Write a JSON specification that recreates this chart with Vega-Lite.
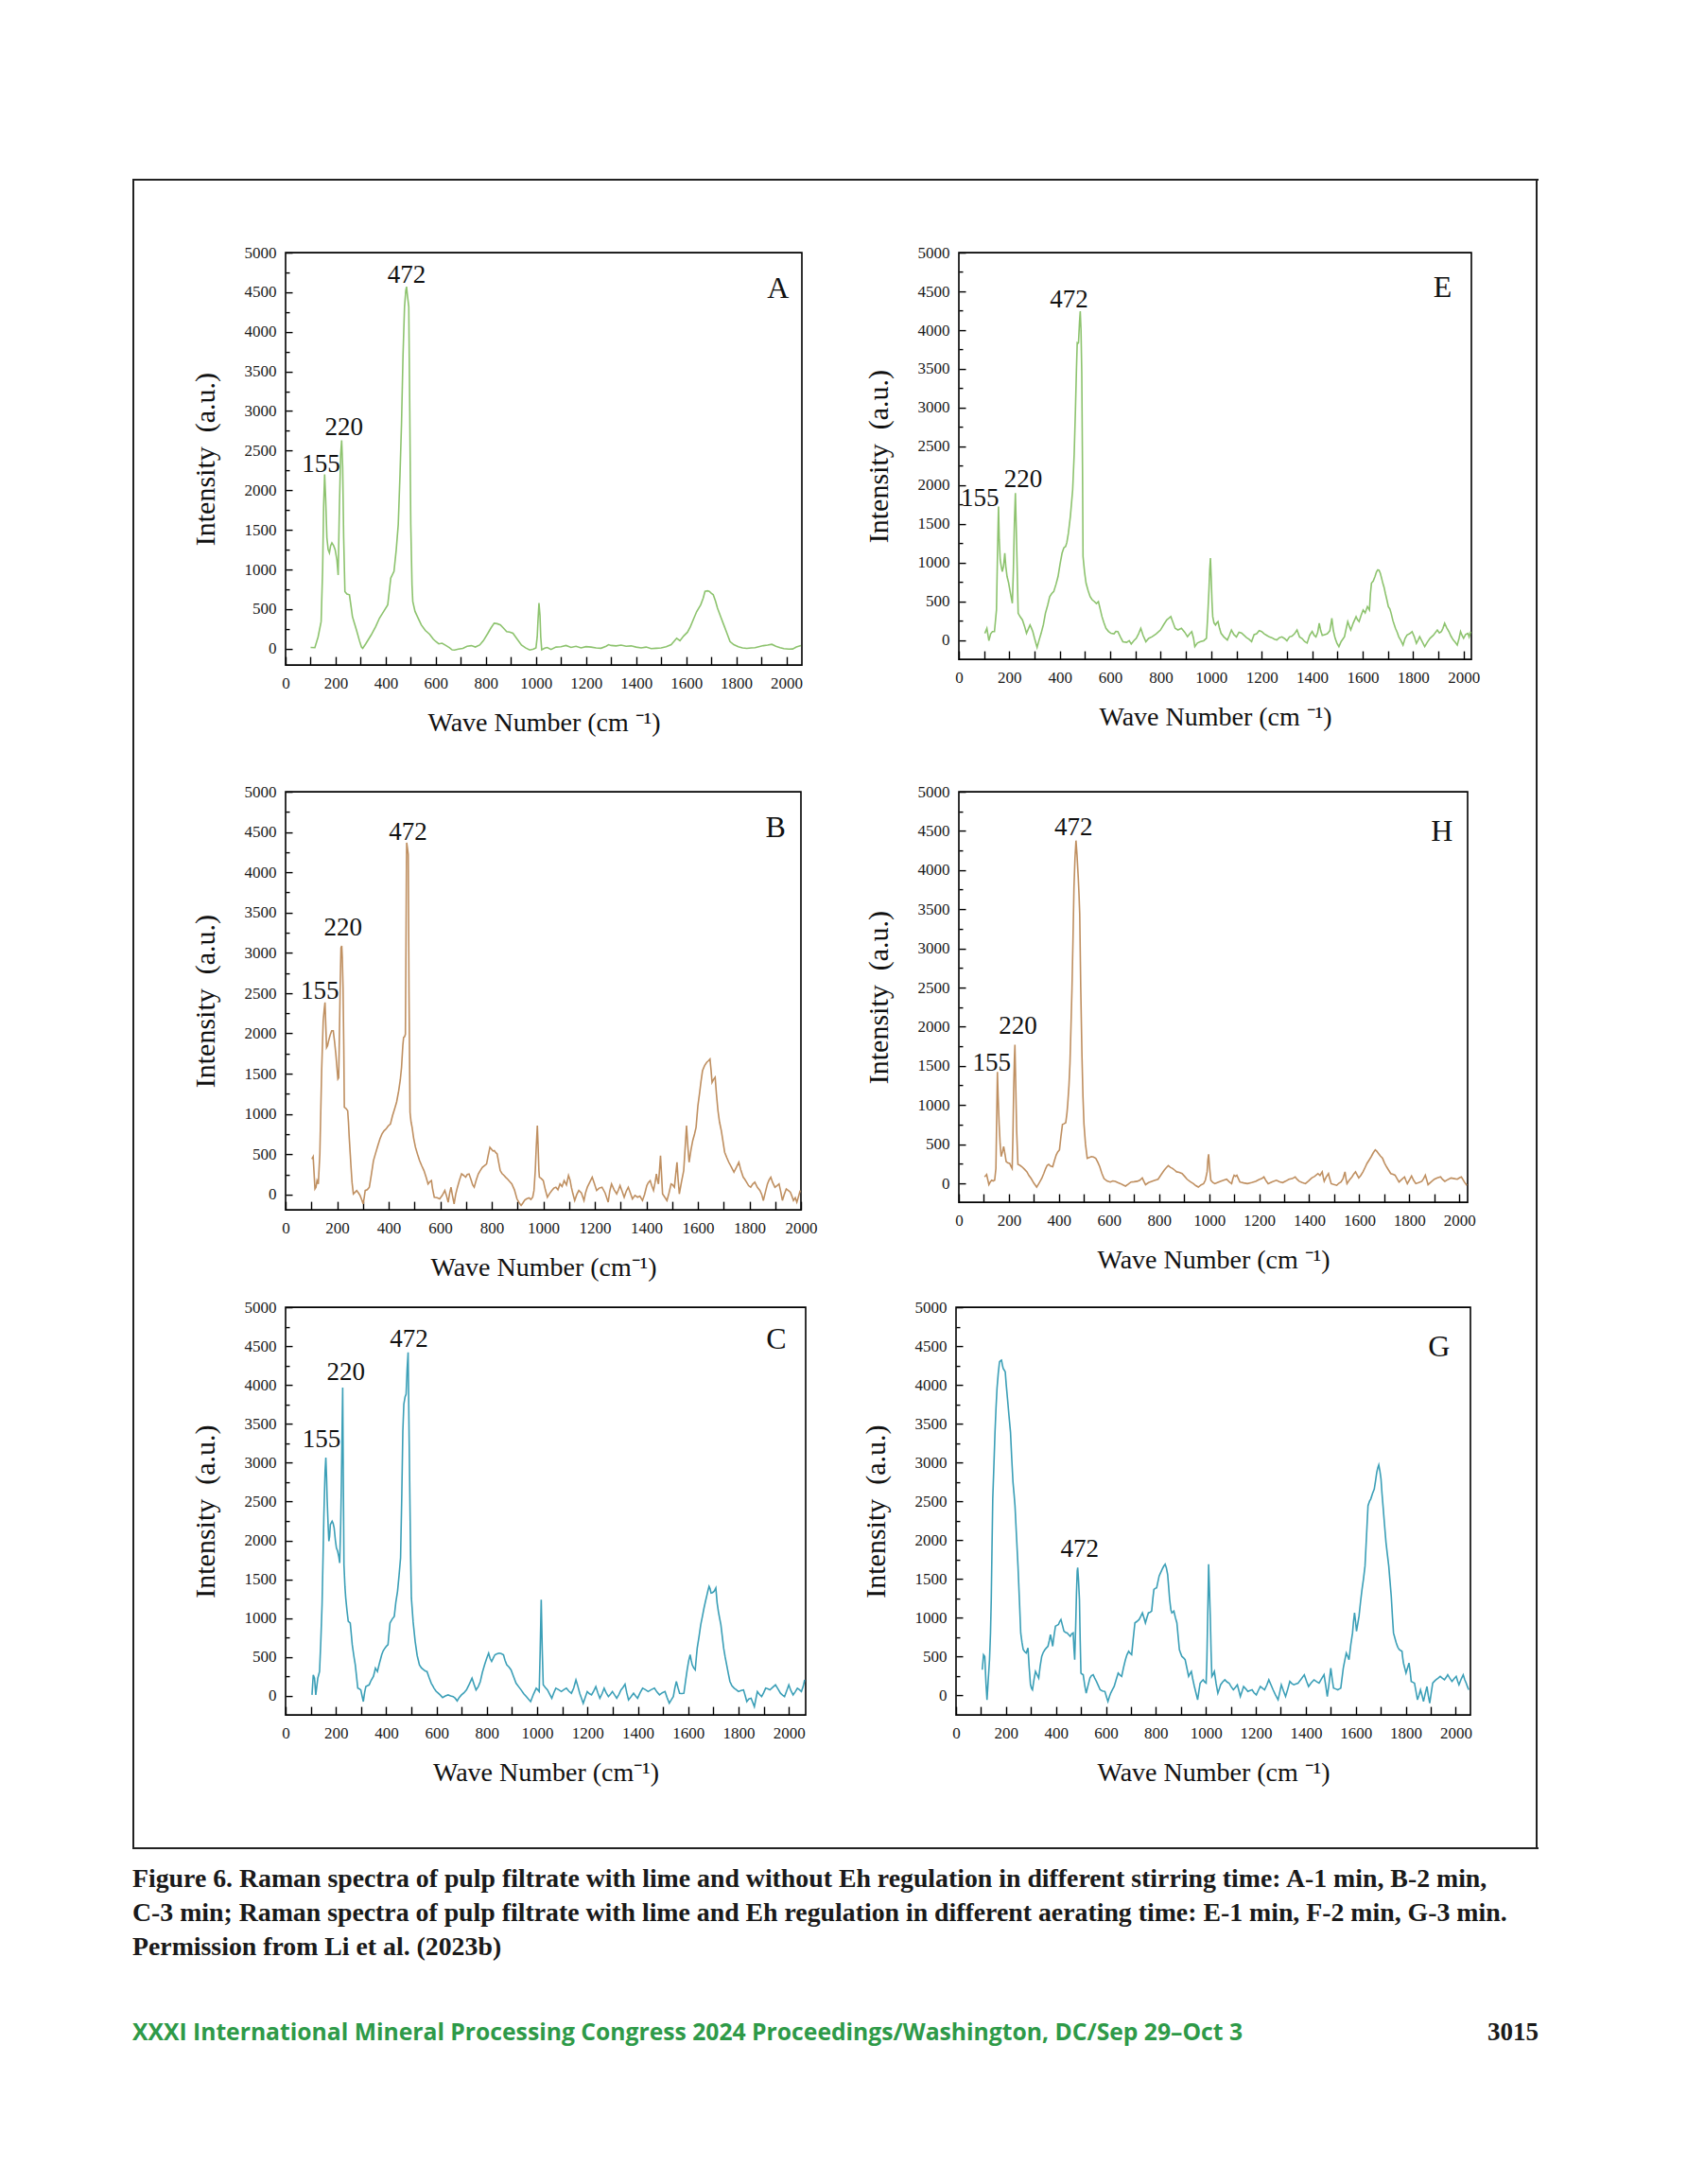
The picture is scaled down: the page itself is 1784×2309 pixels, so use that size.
{
"$schema": "https://vega.github.io/schema/vega-lite/v6.json",
"background": "white",
"padding": {"left": 140, "top": 189, "right": 20, "bottom": 20},
"config": {
  "font": "Liberation Serif",
  "view": {"stroke": "#000", "strokeWidth": 1.6},
  "axis": {"domain": false, "grid": false, "labelFont": "Liberation Serif", "labelFontSize": 17, "labelColor": "#1a1a1a", "tickColor": "#000", "tickWidth": 1.4, "titleFont": "Liberation Serif", "titleFontWeight": "normal", "titleColor": "#111", "labelFlush": false, "labelOverlap": false, "labelBound": false},
  "axisX": {"tickSize": -9, "labelPadding": 20, "titleFontSize": 28, "titlePadding": 20},
  "axisY": {"tickSize": -7, "labelPadding": 17, "titleFontSize": 30, "titlePadding": 26}
},
"datasets": {
"peaks": [
{"p":"A","k":"n","x":142,"y":2330,"t":"155"},{"p":"A","k":"n","x":233,"y":2794,"t":"220"},{"p":"A","k":"n","x":483,"y":4709,"t":"472"},{"p":"A","k":"l","x":1967,"y":4548,"t":"A"},
{"p":"E","k":"n","x":83,"y":1832,"t":"155"},{"p":"E","k":"n","x":255,"y":2069,"t":"220"},{"p":"E","k":"n","x":437,"y":4396,"t":"472"},{"p":"E","k":"l","x":1917,"y":4547,"t":"E"},
{"p":"B","k":"n","x":133,"y":2529,"t":"155"},{"p":"B","k":"n","x":223,"y":3314,"t":"220"},{"p":"B","k":"n","x":475,"y":4500,"t":"472"},{"p":"B","k":"l","x":1902,"y":4554,"t":"B"},
{"p":"H","k":"n","x":131,"y":1531,"t":"155"},{"p":"H","k":"n","x":236,"y":2007,"t":"220"},{"p":"H","k":"n","x":458,"y":4537,"t":"472"},{"p":"H","k":"l","x":1930,"y":4494,"t":"H"},
{"p":"C","k":"n","x":143,"y":3302,"t":"155"},{"p":"C","k":"n","x":240,"y":4161,"t":"220"},{"p":"C","k":"n","x":490,"y":4591,"t":"472"},{"p":"C","k":"l","x":1950,"y":4591,"t":"C"},
{"p":"G","k":"n","x":495,"y":1881,"t":"472"},{"p":"G","k":"l","x":1933,"y":4491,"t":"G"}
],
"A": [
{"x":100,"y":15},{"x":117,"y":13},{"x":130,"y":150},{"x":142,"y":342},{"x":148,"y":1000},{"x":152,"y":1800},{"x":156,"y":2200},{"x":160,"y":1900},{"x":165,"y":1400},{"x":170,"y":1250},{"x":175,"y":1210},{"x":180,"y":1300},{"x":185,"y":1335},{"x":192,"y":1300},{"x":198,"y":1250},{"x":205,"y":1120},{"x":210,"y":930},{"x":215,"y":1800},{"x":220,"y":2450},{"x":224,"y":2630},{"x":228,"y":2300},{"x":232,"y":1400},{"x":237,"y":720},{"x":245,"y":690},{"x":255,"y":680},{"x":262,"y":520},{"x":267,"y":405},{"x":275,"y":320},{"x":283,"y":237},{"x":295,"y":100},{"x":303,"y":20},{"x":308,"y":4},{"x":320,"y":60},{"x":342,"y":173},{"x":360,"y":280},{"x":375,"y":385},{"x":392,"y":470},{"x":408,"y":554},{"x":415,"y":750},{"x":420,"y":890},{"x":433,"y":976},{"x":442,"y":1250},{"x":450,"y":1568},{"x":457,"y":2200},{"x":463,"y":2836},{"x":469,"y":3700},{"x":475,"y":4316},{"x":480,"y":4520},{"x":483,"y":4570},{"x":487,"y":4450},{"x":492,"y":4316},{"x":496,"y":3000},{"x":500,"y":1568},{"x":505,"y":800},{"x":508,"y":596},{"x":517,"y":470},{"x":530,"y":380},{"x":542,"y":300},{"x":558,"y":230},{"x":575,"y":182},{"x":590,"y":120},{"x":600,"y":90},{"x":612,"y":60},{"x":625,"y":68},{"x":640,"y":40},{"x":655,"y":10},{"x":665,"y":-15},{"x":675,"y":-17},{"x":690,"y":-5},{"x":708,"y":4},{"x":725,"y":30},{"x":742,"y":38},{"x":758,"y":20},{"x":775,"y":46},{"x":790,"y":100},{"x":808,"y":194},{"x":820,"y":260},{"x":833,"y":321},{"x":845,"y":315},{"x":858,"y":300},{"x":870,"y":260},{"x":883,"y":215},{"x":895,"y":210},{"x":908,"y":194},{"x":925,"y":120},{"x":942,"y":46},{"x":958,"y":10},{"x":975,"y":-17},{"x":990,"y":-5},{"x":1000,"y":10},{"x":1005,"y":150},{"x":1008,"y":350},{"x":1012,"y":575},{"x":1016,"y":420},{"x":1019,"y":150},{"x":1023,"y":-15},{"x":1035,"y":5},{"x":1045,"y":15},{"x":1060,"y":-10},{"x":1080,"y":20},{"x":1100,"y":25},{"x":1120,"y":40},{"x":1140,"y":15},{"x":1160,"y":30},{"x":1180,"y":10},{"x":1200,"y":25},{"x":1220,"y":20},{"x":1240,"y":10},{"x":1260,"y":5},{"x":1280,"y":30},{"x":1290,"y":50},{"x":1300,"y":40},{"x":1320,"y":35},{"x":1340,"y":45},{"x":1360,"y":30},{"x":1380,"y":35},{"x":1400,"y":20},{"x":1420,"y":10},{"x":1440,"y":20},{"x":1460,"y":0},{"x":1480,"y":5},{"x":1500,"y":10},{"x":1520,"y":25},{"x":1540,"y":50},{"x":1562,"y":131},{"x":1575,"y":100},{"x":1590,"y":160},{"x":1605,"y":207},{"x":1617,"y":279},{"x":1630,"y":380},{"x":1642,"y":469},{"x":1658,"y":554},{"x":1668,"y":640},{"x":1675,"y":723},{"x":1685,"y":730},{"x":1692,"y":723},{"x":1700,"y":700},{"x":1708,"y":680},{"x":1717,"y":600},{"x":1725,"y":511},{"x":1738,"y":400},{"x":1750,"y":300},{"x":1762,"y":200},{"x":1775,"y":89},{"x":1790,"y":50},{"x":1808,"y":25},{"x":1825,"y":10},{"x":1842,"y":4},{"x":1860,"y":10},{"x":1875,"y":13},{"x":1890,"y":25},{"x":1908,"y":38},{"x":1925,"y":45},{"x":1942,"y":55},{"x":1958,"y":30},{"x":1975,"y":13},{"x":1990,"y":0},{"x":2010,"y":-5},{"x":2025,"y":-4},{"x":2040,"y":20},{"x":2058,"y":38}
],
"E": [
{"x":103,"y":86},{"x":111,"y":151},{"x":119,"y":-9},{"x":126,"y":80},{"x":133,"y":108},{"x":141,"y":108},{"x":149,"y":388},{"x":153,"y":1100},{"x":157,"y":1724},{"x":160,"y":1300},{"x":164,"y":1034},{"x":168,"y":950},{"x":172,"y":884},{"x":177,"y":950},{"x":182,"y":1121},{"x":186,"y":950},{"x":191,"y":819},{"x":197,"y":740},{"x":202,"y":646},{"x":207,"y":560},{"x":212,"y":474},{"x":216,"y":900},{"x":220,"y":1500},{"x":224,"y":1896},{"x":227,"y":1500},{"x":230,"y":1078},{"x":235,"y":345},{"x":243,"y":300},{"x":252,"y":259},{"x":260,"y":180},{"x":268,"y":86},{"x":275,"y":140},{"x":282,"y":194},{"x":288,"y":150},{"x":293,"y":108},{"x":300,"y":20},{"x":310,"y":-95},{"x":318,"y":0},{"x":326,"y":86},{"x":335,"y":200},{"x":343,"y":345},{"x":352,"y":450},{"x":360,"y":560},{"x":368,"y":600},{"x":376,"y":625},{"x":385,"y":720},{"x":393,"y":819},{"x":401,"y":980},{"x":409,"y":1121},{"x":416,"y":1190},{"x":423,"y":1207},{"x":428,"y":1260},{"x":434,"y":1379},{"x":442,"y":1600},{"x":451,"y":1940},{"x":457,"y":2400},{"x":462,"y":2974},{"x":466,"y":3500},{"x":469,"y":3836},{"x":472,"y":3830},{"x":474,"y":3836},{"x":478,"y":4100},{"x":481,"y":4245},{"x":484,"y":4000},{"x":487,"y":3448},{"x":490,"y":2200},{"x":492,"y":1078},{"x":498,"y":880},{"x":504,"y":733},{"x":512,"y":640},{"x":520,"y":560},{"x":528,"y":520},{"x":537,"y":496},{"x":545,"y":470},{"x":553,"y":496},{"x":560,"y":400},{"x":567,"y":302},{"x":575,"y":220},{"x":583,"y":151},{"x":593,"y":110},{"x":603,"y":86},{"x":615,"y":80},{"x":622,"y":110},{"x":630,"y":108},{"x":640,"y":40},{"x":650,"y":-22},{"x":665,"y":-30},{"x":675,"y":-10},{"x":683,"y":-52},{"x":693,"y":-10},{"x":703,"y":22},{"x":712,"y":80},{"x":721,"y":151},{"x":730,"y":60},{"x":741,"y":-22},{"x":752,"y":20},{"x":766,"y":43},{"x":782,"y":80},{"x":799,"y":129},{"x":812,"y":200},{"x":824,"y":259},{"x":832,"y":280},{"x":840,"y":302},{"x":848,"y":230},{"x":857,"y":151},{"x":868,"y":130},{"x":882,"y":151},{"x":895,"y":100},{"x":906,"y":43},{"x":915,"y":80},{"x":923,"y":108},{"x":930,"y":20},{"x":935,"y":-86},{"x":945,"y":-40},{"x":956,"y":-22},{"x":970,"y":-10},{"x":981,"y":22},{"x":986,"y":300},{"x":991,"y":646},{"x":994,"y":900},{"x":997,"y":1056},{"x":1000,"y":800},{"x":1003,"y":500},{"x":1006,"y":302},{"x":1011,"y":220},{"x":1017,"y":194},{"x":1022,"y":220},{"x":1027,"y":237},{"x":1033,"y":150},{"x":1039,"y":86},{"x":1050,"y":40},{"x":1064,"y":0},{"x":1072,"y":60},{"x":1080,"y":129},{"x":1090,"y":70},{"x":1100,"y":40},{"x":1110,"y":100},{"x":1120,"y":90},{"x":1130,"y":60},{"x":1140,"y":30},{"x":1150,"y":10},{"x":1160,"y":-20},{"x":1170,"y":70},{"x":1180,"y":80},{"x":1190,"y":120},{"x":1200,"y":110},{"x":1210,"y":80},{"x":1220,"y":60},{"x":1230,"y":40},{"x":1240,"y":30},{"x":1250,"y":10},{"x":1260,"y":0},{"x":1270,"y":30},{"x":1280,"y":40},{"x":1290,"y":20},{"x":1300,"y":-10},{"x":1310,"y":40},{"x":1320,"y":50},{"x":1330,"y":80},{"x":1340,"y":130},{"x":1350,"y":40},{"x":1360,"y":20},{"x":1370,"y":-20},{"x":1380,"y":-40},{"x":1390,"y":60},{"x":1400,"y":110},{"x":1408,"y":60},{"x":1415,"y":40},{"x":1422,"y":100},{"x":1428,"y":216},{"x":1434,"y":120},{"x":1440,"y":60},{"x":1450,"y":70},{"x":1460,"y":80},{"x":1470,"y":120},{"x":1478,"y":280},{"x":1484,"y":120},{"x":1491,"y":22},{"x":1498,"y":-40},{"x":1506,"y":-86},{"x":1515,"y":-20},{"x":1528,"y":43},{"x":1535,"y":150},{"x":1541,"y":237},{"x":1547,"y":180},{"x":1553,"y":129},{"x":1563,"y":220},{"x":1574,"y":302},{"x":1580,"y":260},{"x":1586,"y":237},{"x":1594,"y":320},{"x":1602,"y":388},{"x":1610,"y":350},{"x":1619,"y":431},{"x":1627,"y":388},{"x":1631,"y":600},{"x":1635,"y":733},{"x":1642,"y":760},{"x":1649,"y":819},{"x":1655,"y":880},{"x":1660,"y":905},{"x":1665,"y":900},{"x":1670,"y":862},{"x":1675,"y":800},{"x":1680,"y":733},{"x":1685,"y":680},{"x":1690,"y":603},{"x":1696,"y":520},{"x":1702,"y":431},{"x":1708,"y":400},{"x":1713,"y":345},{"x":1720,"y":250},{"x":1730,"y":151},{"x":1737,"y":100},{"x":1743,"y":43},{"x":1752,"y":-10},{"x":1760,"y":-65},{"x":1768,"y":20},{"x":1776,"y":65},{"x":1786,"y":80},{"x":1796,"y":108},{"x":1805,"y":40},{"x":1813,"y":-43},{"x":1820,"y":0},{"x":1826,"y":43},{"x":1836,"y":-20},{"x":1846,"y":-86},{"x":1856,"y":-30},{"x":1867,"y":22},{"x":1880,"y":60},{"x":1896,"y":129},{"x":1904,"y":90},{"x":1912,"y":108},{"x":1918,"y":150},{"x":1925,"y":216},{"x":1933,"y":160},{"x":1942,"y":108},{"x":1950,"y":50},{"x":1959,"y":0},{"x":1967,"y":-30},{"x":1975,"y":-65},{"x":1982,"y":20},{"x":1988,"y":108},{"x":1994,"y":60},{"x":2000,"y":22},{"x":2008,"y":70},{"x":2017,"y":86},{"x":2022,"y":40},{"x":2028,"y":108}
],
"B": [
{"x":102,"y":442},{"x":107,"y":471},{"x":114,"y":70},{"x":118,"y":90},{"x":122,"y":173},{"x":127,"y":132},{"x":133,"y":504},{"x":140,"y":1537},{"x":146,"y":2157},{"x":150,"y":2300},{"x":153,"y":2384},{"x":156,"y":2100},{"x":159,"y":1826},{"x":163,"y":1850},{"x":167,"y":1909},{"x":173,"y":1980},{"x":179,"y":2033},{"x":185,"y":2033},{"x":190,"y":1900},{"x":195,"y":1744},{"x":200,"y":1550},{"x":203,"y":1434},{"x":206,"y":1450},{"x":208,"y":1800},{"x":212,"y":2600},{"x":215,"y":3066},{"x":218,"y":3087},{"x":220,"y":2950},{"x":223,"y":2570},{"x":226,"y":1800},{"x":228,"y":1083},{"x":234,"y":1070},{"x":241,"y":1041},{"x":244,"y":900},{"x":247,"y":711},{"x":251,"y":500},{"x":254,"y":339},{"x":258,"y":150},{"x":263,"y":8},{"x":270,"y":30},{"x":276,"y":50},{"x":283,"y":20},{"x":289,"y":-12},{"x":295,"y":-60},{"x":301,"y":-116},{"x":305,"y":-40},{"x":309,"y":50},{"x":317,"y":60},{"x":325,"y":91},{"x":333,"y":250},{"x":341,"y":421},{"x":350,"y":520},{"x":358,"y":607},{"x":366,"y":690},{"x":374,"y":752},{"x":382,"y":790},{"x":390,"y":814},{"x":398,"y":850},{"x":407,"y":876},{"x":415,"y":980},{"x":423,"y":1062},{"x":431,"y":1150},{"x":439,"y":1289},{"x":445,"y":1420},{"x":450,"y":1578},{"x":455,"y":1850},{"x":458,"y":1950},{"x":462,"y":1960},{"x":465,"y":1992},{"x":467,"y":3000},{"x":469,"y":4100},{"x":470,"y":4368},{"x":473,"y":4300},{"x":476,"y":4223},{"x":479,"y":2500},{"x":483,"y":1021},{"x":487,"y":900},{"x":491,"y":835},{"x":497,"y":700},{"x":504,"y":587},{"x":512,"y":500},{"x":520,"y":421},{"x":528,"y":360},{"x":537,"y":298},{"x":545,"y":220},{"x":553,"y":132},{"x":560,"y":160},{"x":566,"y":173},{"x":570,"y":80},{"x":577,"y":-33},{"x":588,"y":-40},{"x":598,"y":-54},{"x":608,"y":-10},{"x":618,"y":50},{"x":625,"y":-20},{"x":631,"y":-95},{"x":637,"y":20},{"x":642,"y":91},{"x":648,"y":-20},{"x":654,"y":-116},{"x":660,"y":0},{"x":667,"y":91},{"x":675,"y":180},{"x":683,"y":256},{"x":690,"y":240},{"x":699,"y":215},{"x":705,"y":250},{"x":712,"y":256},{"x":720,"y":180},{"x":726,"y":120},{"x":732,"y":91},{"x":740,"y":180},{"x":748,"y":256},{"x":756,"y":300},{"x":764,"y":339},{"x":772,"y":360},{"x":780,"y":380},{"x":786,"y":480},{"x":793,"y":587},{"x":800,"y":560},{"x":805,"y":540},{"x":810,"y":545},{"x":816,"y":520},{"x":821,"y":504},{"x":827,"y":400},{"x":833,"y":298},{"x":840,"y":260},{"x":847,"y":240},{"x":854,"y":215},{"x":862,"y":190},{"x":870,"y":160},{"x":878,"y":132},{"x":888,"y":60},{"x":898,"y":-54},{"x":906,"y":-100},{"x":914,"y":-136},{"x":920,"y":-110},{"x":928,"y":-70},{"x":935,"y":-54},{"x":945,"y":-40},{"x":952,"y":-60},{"x":959,"y":-33},{"x":964,"y":50},{"x":969,"y":298},{"x":973,"y":600},{"x":977,"y":855},{"x":980,"y":600},{"x":983,"y":300},{"x":985,"y":215},{"x":992,"y":200},{"x":1000,"y":173},{"x":1008,"y":60},{"x":1016,"y":-33},{"x":1024,"y":10},{"x":1033,"y":50},{"x":1041,"y":80},{"x":1049,"y":91},{"x":1057,"y":60},{"x":1065,"y":132},{"x":1073,"y":100},{"x":1081,"y":173},{"x":1090,"y":120},{"x":1098,"y":236},{"x":1104,"y":180},{"x":1109,"y":91},{"x":1115,"y":10},{"x":1122,"y":-74},{"x":1130,"y":0},{"x":1138,"y":50},{"x":1148,"y":20},{"x":1158,"y":-74},{"x":1164,"y":20},{"x":1171,"y":91},{"x":1180,"y":150},{"x":1190,"y":215},{"x":1198,"y":140},{"x":1207,"y":50},{"x":1217,"y":80},{"x":1228,"y":91},{"x":1240,"y":20},{"x":1252,"y":-95},{"x":1258,"y":40},{"x":1265,"y":132},{"x":1275,"y":60},{"x":1285,"y":8},{"x":1292,"y":60},{"x":1298,"y":112},{"x":1306,"y":40},{"x":1314,"y":-33},{"x":1322,"y":40},{"x":1330,"y":91},{"x":1338,"y":20},{"x":1346,"y":-54},{"x":1356,"y":-10},{"x":1366,"y":-33},{"x":1375,"y":-20},{"x":1385,"y":-74},{"x":1393,"y":0},{"x":1402,"y":112},{"x":1408,"y":150},{"x":1415,"y":173},{"x":1421,"y":110},{"x":1428,"y":50},{"x":1434,"y":150},{"x":1439,"y":256},{"x":1443,"y":180},{"x":1447,"y":132},{"x":1451,"y":300},{"x":1455,"y":483},{"x":1459,"y":250},{"x":1463,"y":8},{"x":1471,"y":-30},{"x":1480,"y":-74},{"x":1488,"y":20},{"x":1496,"y":132},{"x":1502,"y":120},{"x":1509,"y":91},{"x":1514,"y":250},{"x":1519,"y":401},{"x":1523,"y":200},{"x":1528,"y":8},{"x":1536,"y":150},{"x":1545,"y":298},{"x":1551,"y":600},{"x":1556,"y":855},{"x":1561,"y":600},{"x":1566,"y":401},{"x":1573,"y":550},{"x":1580,"y":669},{"x":1587,"y":750},{"x":1593,"y":835},{"x":1600,"y":1100},{"x":1607,"y":1268},{"x":1612,"y":1400},{"x":1618,"y":1537},{"x":1626,"y":1600},{"x":1634,"y":1640},{"x":1641,"y":1660},{"x":1647,"y":1682},{"x":1651,"y":1550},{"x":1655,"y":1392},{"x":1661,"y":1430},{"x":1667,"y":1455},{"x":1672,"y":1250},{"x":1678,"y":1041},{"x":1684,"y":900},{"x":1691,"y":793},{"x":1698,"y":650},{"x":1704,"y":525},{"x":1712,"y":460},{"x":1720,"y":401},{"x":1730,"y":340},{"x":1740,"y":277},{"x":1750,"y":340},{"x":1759,"y":401},{"x":1767,"y":300},{"x":1776,"y":215},{"x":1782,"y":190},{"x":1789,"y":153},{"x":1797,"y":110},{"x":1805,"y":91},{"x":1813,"y":130},{"x":1821,"y":153},{"x":1831,"y":90},{"x":1841,"y":50},{"x":1848,"y":0},{"x":1854,"y":-74},{"x":1862,"y":30},{"x":1870,"y":132},{"x":1876,"y":180},{"x":1883,"y":215},{"x":1890,"y":150},{"x":1899,"y":91},{"x":1907,"y":110},{"x":1915,"y":132},{"x":1922,"y":30},{"x":1928,"y":-74},{"x":1935,"y":0},{"x":1943,"y":70},{"x":1951,"y":50},{"x":1959,"y":29},{"x":1965,"y":-20},{"x":1971,"y":-74},{"x":1978,"y":-40},{"x":1984,"y":-95},{"x":1991,"y":-20},{"x":1997,"y":50}
],
"H": [
{"x":103,"y":82},{"x":111,"y":112},{"x":120,"y":-17},{"x":126,"y":20},{"x":131,"y":39},{"x":137,"y":30},{"x":143,"y":39},{"x":148,"y":190},{"x":151,"y":800},{"x":154,"y":1423},{"x":157,"y":1100},{"x":161,"y":753},{"x":165,"y":500},{"x":169,"y":342},{"x":174,"y":400},{"x":179,"y":471},{"x":184,"y":380},{"x":189,"y":277},{"x":196,"y":260},{"x":203,"y":255},{"x":208,"y":220},{"x":213,"y":190},{"x":216,"y":600},{"x":219,"y":1200},{"x":222,"y":1600},{"x":224,"y":1769},{"x":227,"y":1300},{"x":231,"y":666},{"x":236,"y":242},{"x":244,"y":230},{"x":252,"y":212},{"x":262,"y":180},{"x":272,"y":147},{"x":280,"y":100},{"x":289,"y":61},{"x":300,"y":0},{"x":311,"y":-48},{"x":320,"y":0},{"x":331,"y":61},{"x":340,"y":130},{"x":347,"y":190},{"x":353,"y":230},{"x":359,"y":242},{"x":366,"y":220},{"x":375,"y":212},{"x":382,"y":290},{"x":389,"y":363},{"x":395,"y":400},{"x":402,"y":428},{"x":408,"y":600},{"x":414,"y":753},{"x":420,"y":760},{"x":427,"y":774},{"x":432,"y":900},{"x":435,"y":1012},{"x":440,"y":1250},{"x":444,"y":1531},{"x":448,"y":2000},{"x":452,"y":2483},{"x":456,"y":3100},{"x":460,"y":3780},{"x":464,"y":4150},{"x":468,"y":4377},{"x":472,"y":4200},{"x":477,"y":3910},{"x":480,"y":3700},{"x":483,"y":3434},{"x":487,"y":2500},{"x":492,"y":1618},{"x":496,"y":1100},{"x":500,"y":753},{"x":506,"y":500},{"x":513,"y":320},{"x":521,"y":330},{"x":530,"y":342},{"x":538,"y":335},{"x":547,"y":320},{"x":555,"y":270},{"x":563,"y":212},{"x":571,"y":130},{"x":580,"y":61},{"x":592,"y":30},{"x":605,"y":17},{"x":615,"y":30},{"x":625,"y":26},{"x":635,"y":10},{"x":646,"y":-4},{"x":656,"y":-20},{"x":666,"y":-35},{"x":677,"y":-10},{"x":688,"y":17},{"x":700,"y":20},{"x":713,"y":26},{"x":723,"y":40},{"x":733,"y":69},{"x":740,"y":20},{"x":746,"y":-17},{"x":758,"y":10},{"x":771,"y":26},{"x":784,"y":40},{"x":796,"y":52},{"x":808,"y":110},{"x":821,"y":169},{"x":829,"y":200},{"x":837,"y":225},{"x":845,"y":205},{"x":854,"y":190},{"x":862,"y":170},{"x":870,"y":147},{"x":881,"y":140},{"x":892,"y":125},{"x":902,"y":90},{"x":912,"y":52},{"x":925,"y":20},{"x":937,"y":-4},{"x":947,"y":-30},{"x":957,"y":-48},{"x":968,"y":-20},{"x":978,"y":-4},{"x":985,"y":40},{"x":992,"y":147},{"x":995,"y":300},{"x":998,"y":372},{"x":1002,"y":200},{"x":1007,"y":39},{"x":1015,"y":10},{"x":1023,"y":-4},{"x":1033,"y":10},{"x":1045,"y":26},{"x":1058,"y":40},{"x":1070,"y":52},{"x":1080,"y":20},{"x":1090,"y":-4},{"x":1095,"y":60},{"x":1100,"y":104},{"x":1106,"y":90},{"x":1111,"y":104},{"x":1117,"y":60},{"x":1123,"y":17},{"x":1138,"y":5},{"x":1153,"y":-4},{"x":1170,"y":10},{"x":1186,"y":26},{"x":1200,"y":50},{"x":1210,"y":60},{"x":1219,"y":82},{"x":1228,"y":30},{"x":1236,"y":-4},{"x":1252,"y":20},{"x":1269,"y":39},{"x":1282,"y":20},{"x":1294,"y":9},{"x":1307,"y":30},{"x":1319,"y":52},{"x":1332,"y":60},{"x":1344,"y":82},{"x":1352,"y":50},{"x":1360,"y":26},{"x":1372,"y":10},{"x":1385,"y":-4},{"x":1397,"y":30},{"x":1410,"y":69},{"x":1422,"y":90},{"x":1435,"y":125},{"x":1443,"y":100},{"x":1452,"y":147},{"x":1456,"y":80},{"x":1460,"y":26},{"x":1468,"y":80},{"x":1477,"y":125},{"x":1482,"y":60},{"x":1488,"y":-4},{"x":1498,"y":-15},{"x":1510,"y":-26},{"x":1518,"y":0},{"x":1527,"y":17},{"x":1535,"y":60},{"x":1543,"y":147},{"x":1547,"y":60},{"x":1551,"y":-4},{"x":1560,"y":40},{"x":1571,"y":82},{"x":1578,"y":120},{"x":1585,"y":147},{"x":1591,"y":110},{"x":1598,"y":69},{"x":1606,"y":100},{"x":1615,"y":147},{"x":1623,"y":200},{"x":1631,"y":255},{"x":1640,"y":300},{"x":1648,"y":342},{"x":1656,"y":390},{"x":1664,"y":428},{"x":1670,"y":410},{"x":1676,"y":385},{"x":1684,"y":350},{"x":1693,"y":320},{"x":1701,"y":260},{"x":1709,"y":212},{"x":1717,"y":170},{"x":1726,"y":125},{"x":1735,"y":115},{"x":1743,"y":104},{"x":1751,"y":60},{"x":1759,"y":17},{"x":1770,"y":50},{"x":1781,"y":82},{"x":1786,"y":40},{"x":1792,"y":-4},{"x":1800,"y":40},{"x":1809,"y":95},{"x":1817,"y":40},{"x":1826,"y":-4},{"x":1838,"y":10},{"x":1850,"y":26},{"x":1857,"y":60},{"x":1864,"y":104},{"x":1870,"y":40},{"x":1875,"y":-17},{"x":1888,"y":20},{"x":1900,"y":52},{"x":1912,"y":70},{"x":1925,"y":82},{"x":1933,"y":50},{"x":1942,"y":26},{"x":1955,"y":50},{"x":1967,"y":69},{"x":1980,"y":60},{"x":1992,"y":52},{"x":2000,"y":70},{"x":2008,"y":82},{"x":2014,"y":50},{"x":2020,"y":17},{"x":2030,"y":-26}
],
"C": [
{"x":105,"y":13},{"x":110,"y":271},{"x":115,"y":230},{"x":120,"y":13},{"x":128,"y":228},{"x":135,"y":314},{"x":140,"y":700},{"x":145,"y":1174},{"x":149,"y":1800},{"x":152,"y":2291},{"x":157,"y":2893},{"x":160,"y":3065},{"x":163,"y":2800},{"x":165,"y":2549},{"x":169,"y":2200},{"x":172,"y":1990},{"x":175,"y":2050},{"x":178,"y":2205},{"x":185,"y":2248},{"x":189,"y":2220},{"x":193,"y":2162},{"x":198,"y":2000},{"x":202,"y":1904},{"x":207,"y":1861},{"x":212,"y":1780},{"x":215,"y":1711},{"x":219,"y":2200},{"x":222,"y":2764},{"x":225,"y":3500},{"x":227,"y":3968},{"x":229,"y":3000},{"x":232,"y":1689},{"x":236,"y":1400},{"x":239,"y":1260},{"x":244,"y":1100},{"x":249,"y":959},{"x":257,"y":937},{"x":261,"y":800},{"x":265,"y":658},{"x":271,"y":520},{"x":277,"y":400},{"x":282,"y":250},{"x":287,"y":99},{"x":293,"y":90},{"x":299,"y":77},{"x":304,"y":0},{"x":309,"y":-73},{"x":314,"y":40},{"x":319,"y":120},{"x":325,"y":130},{"x":332,"y":142},{"x":340,"y":200},{"x":349,"y":249},{"x":353,"y":300},{"x":357,"y":357},{"x":365,"y":314},{"x":373,"y":420},{"x":382,"y":529},{"x":388,"y":580},{"x":395,"y":615},{"x":401,"y":640},{"x":407,"y":658},{"x":411,"y":800},{"x":415,"y":937},{"x":424,"y":990},{"x":432,"y":1023},{"x":438,"y":1200},{"x":445,"y":1346},{"x":451,"y":1550},{"x":457,"y":1776},{"x":462,"y":2600},{"x":466,"y":3400},{"x":470,"y":3753},{"x":475,"y":3850},{"x":479,"y":3882},{"x":483,"y":4200},{"x":487,"y":4419},{"x":490,"y":3600},{"x":494,"y":2549},{"x":497,"y":1800},{"x":500,"y":1260},{"x":507,"y":950},{"x":515,"y":701},{"x":523,"y":520},{"x":532,"y":400},{"x":540,"y":360},{"x":549,"y":335},{"x":556,"y":320},{"x":562,"y":314},{"x":570,"y":240},{"x":579,"y":163},{"x":585,"y":130},{"x":590,"y":99},{"x":598,"y":60},{"x":607,"y":34},{"x":615,"y":10},{"x":624,"y":-21},{"x":635,"y":0},{"x":646,"y":13},{"x":656,"y":0},{"x":666,"y":-9},{"x":674,"y":-30},{"x":682,"y":-64},{"x":690,"y":-20},{"x":699,"y":13},{"x":709,"y":40},{"x":719,"y":77},{"x":730,"y":150},{"x":741,"y":228},{"x":749,"y":150},{"x":757,"y":77},{"x":766,"y":120},{"x":774,"y":185},{"x":782,"y":300},{"x":791,"y":400},{"x":799,"y":480},{"x":807,"y":550},{"x":813,"y":480},{"x":819,"y":443},{"x":826,"y":490},{"x":832,"y":529},{"x":840,"y":540},{"x":849,"y":550},{"x":857,"y":545},{"x":866,"y":529},{"x":872,"y":460},{"x":879,"y":400},{"x":888,"y":370},{"x":896,"y":335},{"x":906,"y":250},{"x":916,"y":163},{"x":926,"y":120},{"x":936,"y":77},{"x":946,"y":30},{"x":957,"y":-9},{"x":965,"y":-40},{"x":974,"y":-73},{"x":985,"y":20},{"x":996,"y":99},{"x":1002,"y":80},{"x":1008,"y":56},{"x":1012,"y":600},{"x":1016,"y":1238},{"x":1020,"y":600},{"x":1024,"y":142},{"x":1032,"y":110},{"x":1041,"y":77},{"x":1050,"y":20},{"x":1058,"y":-30},{"x":1066,"y":40},{"x":1074,"y":99},{"x":1085,"y":80},{"x":1096,"y":56},{"x":1106,"y":80},{"x":1116,"y":99},{"x":1126,"y":60},{"x":1136,"y":34},{"x":1145,"y":100},{"x":1154,"y":206},{"x":1162,"y":120},{"x":1169,"y":34},{"x":1176,"y":-30},{"x":1183,"y":-95},{"x":1191,"y":-20},{"x":1199,"y":56},{"x":1207,"y":30},{"x":1216,"y":13},{"x":1224,"y":60},{"x":1233,"y":120},{"x":1241,"y":40},{"x":1249,"y":-30},{"x":1258,"y":30},{"x":1266,"y":99},{"x":1274,"y":40},{"x":1283,"y":-9},{"x":1291,"y":20},{"x":1299,"y":56},{"x":1308,"y":10},{"x":1316,"y":-30},{"x":1325,"y":20},{"x":1333,"y":77},{"x":1341,"y":110},{"x":1349,"y":150},{"x":1356,"y":40},{"x":1363,"y":-52},{"x":1373,"y":-10},{"x":1383,"y":34},{"x":1391,"y":0},{"x":1399,"y":-30},{"x":1409,"y":40},{"x":1419,"y":99},{"x":1430,"y":80},{"x":1441,"y":56},{"x":1453,"y":80},{"x":1466,"y":99},{"x":1476,"y":50},{"x":1486,"y":13},{"x":1497,"y":40},{"x":1508,"y":56},{"x":1516,"y":-20},{"x":1525,"y":-95},{"x":1533,"y":-50},{"x":1541,"y":-9},{"x":1547,"y":100},{"x":1553,"y":185},{"x":1560,"y":100},{"x":1566,"y":34},{"x":1575,"y":30},{"x":1583,"y":34},{"x":1590,"y":200},{"x":1596,"y":335},{"x":1602,"y":450},{"x":1608,"y":529},{"x":1612,"y":460},{"x":1616,"y":400},{"x":1622,"y":360},{"x":1628,"y":335},{"x":1632,"y":480},{"x":1636,"y":615},{"x":1643,"y":760},{"x":1650,"y":916},{"x":1657,"y":1030},{"x":1663,"y":1131},{"x":1669,"y":1220},{"x":1675,"y":1303},{"x":1679,"y":1360},{"x":1683,"y":1410},{"x":1687,"y":1380},{"x":1691,"y":1324},{"x":1697,"y":1330},{"x":1703,"y":1346},{"x":1707,"y":1370},{"x":1710,"y":1389},{"x":1715,"y":1200},{"x":1720,"y":1088},{"x":1725,"y":1000},{"x":1730,"y":916},{"x":1735,"y":780},{"x":1741,"y":615},{"x":1747,"y":500},{"x":1753,"y":400},{"x":1760,"y":280},{"x":1766,"y":185},{"x":1774,"y":130},{"x":1783,"y":99},{"x":1791,"y":80},{"x":1800,"y":56},{"x":1810,"y":70},{"x":1820,"y":77},{"x":1827,"y":0},{"x":1833,"y":-73},{"x":1841,"y":-40},{"x":1850,"y":-30},{"x":1856,"y":-80},{"x":1863,"y":-138},{"x":1869,"y":-40},{"x":1875,"y":56},{"x":1883,"y":20},{"x":1892,"y":-9},{"x":1900,"y":40},{"x":1908,"y":99},{"x":1917,"y":90},{"x":1925,"y":77},{"x":1936,"y":110},{"x":1947,"y":142},{"x":1957,"y":90},{"x":1967,"y":34},{"x":1975,"y":10},{"x":1983,"y":-9},{"x":1991,"y":60},{"x":2000,"y":142},{"x":2008,"y":70},{"x":2017,"y":13},{"x":2025,"y":50},{"x":2034,"y":99},{"x":2042,"y":80},{"x":2050,"y":56},{"x":2057,"y":120},{"x":2063,"y":206}
],
"G": [
{"x":105,"y":328},{"x":110,"y":522},{"x":115,"y":500},{"x":120,"y":150},{"x":124,"y":-60},{"x":129,"y":200},{"x":134,"y":457},{"x":138,"y":800},{"x":141,"y":1234},{"x":144,"y":1900},{"x":147,"y":2528},{"x":152,"y":3000},{"x":156,"y":3391},{"x":160,"y":3700},{"x":164,"y":3952},{"x":169,"y":4150},{"x":174,"y":4297},{"x":178,"y":4310},{"x":182,"y":4318},{"x":186,"y":4250},{"x":189,"y":4210},{"x":193,"y":4190},{"x":197,"y":4167},{"x":201,"y":4000},{"x":206,"y":3822},{"x":212,"y":3600},{"x":218,"y":3391},{"x":223,"y":3050},{"x":228,"y":2744},{"x":232,"y":2600},{"x":236,"y":2442},{"x":242,"y":2050},{"x":248,"y":1665},{"x":254,"y":1200},{"x":259,"y":802},{"x":264,"y":680},{"x":269,"y":587},{"x":275,"y":560},{"x":281,"y":544},{"x":285,"y":580},{"x":288,"y":608},{"x":293,"y":350},{"x":298,"y":134},{"x":302,"y":90},{"x":306,"y":69},{"x":312,"y":200},{"x":318,"y":306},{"x":325,"y":260},{"x":331,"y":220},{"x":337,"y":380},{"x":343,"y":500},{"x":349,"y":550},{"x":356,"y":587},{"x":362,"y":610},{"x":368,"y":630},{"x":373,"y":700},{"x":378,"y":781},{"x":383,"y":700},{"x":387,"y":630},{"x":392,"y":760},{"x":398,"y":889},{"x":404,"y":900},{"x":410,"y":910},{"x":415,"y":950},{"x":420,"y":975},{"x":426,"y":900},{"x":432,"y":824},{"x":438,"y":810},{"x":445,"y":802},{"x":451,"y":780},{"x":457,"y":759},{"x":463,"y":790},{"x":469,"y":802},{"x":472,"y":600},{"x":475,"y":457},{"x":479,"y":900},{"x":482,"y":1300},{"x":485,"y":1600},{"x":487,"y":1644},{"x":490,"y":1500},{"x":494,"y":1234},{"x":497,"y":700},{"x":500,"y":285},{"x":505,"y":270},{"x":509,"y":263},{"x":515,"y":130},{"x":521,"y":26},{"x":528,"y":120},{"x":536,"y":220},{"x":542,"y":250},{"x":549,"y":263},{"x":555,"y":220},{"x":562,"y":177},{"x":570,"y":120},{"x":577,"y":69},{"x":586,"y":55},{"x":596,"y":47},{"x":602,"y":-20},{"x":608,"y":-82},{"x":614,"y":-20},{"x":619,"y":26},{"x":626,"y":70},{"x":633,"y":112},{"x":641,"y":200},{"x":649,"y":285},{"x":656,"y":260},{"x":663,"y":242},{"x":670,"y":350},{"x":678,"y":457},{"x":684,"y":520},{"x":691,"y":565},{"x":697,"y":540},{"x":703,"y":522},{"x":709,"y":720},{"x":716,"y":932},{"x":724,"y":950},{"x":733,"y":975},{"x":740,"y":1020},{"x":746,"y":1061},{"x":752,"y":1000},{"x":758,"y":932},{"x":764,"y":1000},{"x":770,"y":1061},{"x":777,"y":1070},{"x":783,"y":1083},{"x":788,"y":1250},{"x":792,"y":1363},{"x":797,"y":1375},{"x":803,"y":1385},{"x":808,"y":1460},{"x":813,"y":1536},{"x":819,"y":1580},{"x":825,"y":1622},{"x":831,"y":1660},{"x":837,"y":1687},{"x":842,"y":1640},{"x":847,"y":1557},{"x":851,"y":1400},{"x":855,"y":1234},{"x":860,"y":1100},{"x":864,"y":1061},{"x":868,"y":1070},{"x":872,"y":1083},{"x":878,"y":1000},{"x":884,"y":932},{"x":889,"y":760},{"x":894,"y":587},{"x":899,"y":540},{"x":904,"y":500},{"x":911,"y":480},{"x":917,"y":457},{"x":924,"y":350},{"x":931,"y":242},{"x":937,"y":280},{"x":942,"y":306},{"x":948,"y":200},{"x":954,"y":112},{"x":961,"y":20},{"x":967,"y":-60},{"x":972,"y":50},{"x":977,"y":155},{"x":983,"y":180},{"x":989,"y":198},{"x":995,"y":170},{"x":1001,"y":155},{"x":1004,"y":450},{"x":1006,"y":802},{"x":1009,"y":1300},{"x":1011,"y":1687},{"x":1014,"y":1400},{"x":1018,"y":975},{"x":1021,"y":550},{"x":1024,"y":242},{"x":1029,"y":270},{"x":1034,"y":306},{"x":1041,"y":150},{"x":1048,"y":26},{"x":1054,"y":80},{"x":1059,"y":134},{"x":1067,"y":170},{"x":1076,"y":198},{"x":1085,"y":170},{"x":1093,"y":155},{"x":1101,"y":110},{"x":1110,"y":69},{"x":1118,"y":100},{"x":1126,"y":134},{"x":1132,"y":60},{"x":1138,"y":-17},{"x":1145,"y":50},{"x":1151,"y":112},{"x":1160,"y":80},{"x":1168,"y":47},{"x":1177,"y":60},{"x":1185,"y":69},{"x":1193,"y":30},{"x":1202,"y":4},{"x":1210,"y":60},{"x":1218,"y":112},{"x":1227,"y":90},{"x":1235,"y":69},{"x":1244,"y":130},{"x":1252,"y":198},{"x":1261,"y":130},{"x":1269,"y":69},{"x":1279,"y":0},{"x":1289,"y":-60},{"x":1296,"y":40},{"x":1302,"y":134},{"x":1311,"y":50},{"x":1319,"y":-17},{"x":1328,"y":80},{"x":1336,"y":177},{"x":1344,"y":150},{"x":1352,"y":134},{"x":1361,"y":145},{"x":1369,"y":155},{"x":1382,"y":210},{"x":1394,"y":263},{"x":1403,"y":180},{"x":1411,"y":112},{"x":1422,"y":160},{"x":1433,"y":198},{"x":1443,"y":175},{"x":1453,"y":155},{"x":1463,"y":210},{"x":1473,"y":263},{"x":1480,"y":120},{"x":1486,"y":-17},{"x":1493,"y":150},{"x":1500,"y":349},{"x":1506,"y":200},{"x":1511,"y":91},{"x":1520,"y":80},{"x":1528,"y":69},{"x":1534,"y":80},{"x":1540,"y":91},{"x":1545,"y":220},{"x":1550,"y":349},{"x":1556,"y":450},{"x":1562,"y":544},{"x":1568,"y":500},{"x":1573,"y":457},{"x":1580,"y":650},{"x":1587,"y":802},{"x":1591,"y":950},{"x":1595,"y":1061},{"x":1599,"y":950},{"x":1603,"y":824},{"x":1608,"y":920},{"x":1613,"y":1018},{"x":1619,"y":1200},{"x":1625,"y":1363},{"x":1631,"y":1500},{"x":1637,"y":1665},{"x":1643,"y":2050},{"x":1649,"y":2442},{"x":1655,"y":2500},{"x":1660,"y":2528},{"x":1667,"y":2600},{"x":1674,"y":2657},{"x":1679,"y":2760},{"x":1684,"y":2873},{"x":1688,"y":2930},{"x":1692,"y":2968},{"x":1697,"y":2880},{"x":1701,"y":2787},{"x":1705,"y":2600},{"x":1709,"y":2442},{"x":1715,"y":2200},{"x":1721,"y":1967},{"x":1727,"y":1800},{"x":1732,"y":1665},{"x":1737,"y":1470},{"x":1742,"y":1277},{"x":1747,"y":1000},{"x":1751,"y":802},{"x":1757,"y":730},{"x":1762,"y":673},{"x":1768,"y":620},{"x":1774,"y":587},{"x":1780,"y":575},{"x":1785,"y":565},{"x":1788,"y":480},{"x":1791,"y":414},{"x":1796,"y":350},{"x":1801,"y":285},{"x":1807,"y":350},{"x":1813,"y":414},{"x":1818,"y":300},{"x":1822,"y":177},{"x":1829,"y":165},{"x":1835,"y":155},{"x":1841,"y":50},{"x":1847,"y":-60},{"x":1853,"y":0},{"x":1859,"y":69},{"x":1865,"y":0},{"x":1871,"y":-82},{"x":1878,"y":20},{"x":1885,"y":112},{"x":1890,"y":0},{"x":1896,"y":-104},{"x":1902,"y":30},{"x":1908,"y":155},{"x":1915,"y":180},{"x":1921,"y":198},{"x":1930,"y":220},{"x":1938,"y":242},{"x":1946,"y":220},{"x":1955,"y":198},{"x":1962,"y":230},{"x":1968,"y":263},{"x":1976,"y":220},{"x":1985,"y":177},{"x":1993,"y":210},{"x":2002,"y":242},{"x":2008,"y":180},{"x":2013,"y":134},{"x":2021,"y":200},{"x":2030,"y":263},{"x":2036,"y":200},{"x":2042,"y":155},{"x":2047,"y":110},{"x":2052,"y":69}
]
},
"title": {"text": "3015", "orient": "bottom", "anchor": "end", "frame": "bounds", "font": "Liberation Serif", "fontSize": 27, "fontWeight": "bold", "color": "#1a1a1a", "offset": -26, "dx": 0},
"vconcat": [
{
"title": {"text": ["Figure 6. Raman spectra of pulp filtrate with lime and without Eh regulation in different stirring time: A-1 min, B-2 min,", "C-3 min; Raman spectra of pulp filtrate with lime and Eh regulation in different aerating time: E-1 min, F-2 min, G-3 min.", "Permission from Li et al. (2023b)"], "orient": "bottom", "anchor": "start", "frame": "bounds", "font": "Liberation Serif", "fontSize": 27.8, "fontWeight": "bold", "color": "#1a1a1a", "lineHeight": 36, "offset": 18, "dx": 0, "subtitle": "XXXI International Mineral Processing Congress 2024 Proceedings/Washington, DC/Sep 29\u2013Oct 3", "subtitleFont": "Open Sans", "subtitleFontSize": 24.7, "subtitleFontWeight": "bold", "subtitleColor": "#2e9a48", "subtitlePadding": 64},
"spacing": 0,
"vconcat": [
{"width": 1487, "height": 2, "view": {"stroke": null}, "data": {"values": [{}]}, "mark": {"type": "rect", "color": "#222"}, "encoding": {}},
{
"spacing": 59, "center": true,
"hconcat": [
{"width": 2, "height": 1762, "view": {"stroke": null}, "data": {"values": [{}]}, "mark": {"type": "rect", "color": "#222"}, "encoding": {}},
{
"spacing": 58, "center": true,
"hconcat": [
{
"spacing": 0,
"vconcat": [
{"width": 1, "height": 2, "view": {"stroke": null}, "data": {"values": []}, "mark": "point"},
{
"spacing": 17,
"vconcat": [
{
"spacing": 48,
"vconcat": [
{
"hconcat": [
{
"width": 546, "height": 436,
"encoding": {
 "x": {"field": "x", "type": "quantitative", "scale": {"domain": [0, 2062], "nice": false, "zero": false}, "axis": {"labelFont": "Liberation Serif", "labelFontSize": 17, "values": [0,100,200,300,400,500,600,700,800,900,1000,1100,1200,1300,1400,1500,1600,1700,1800,1900,2000], "labelExpr": "datum.value % 200 === 0 ? datum.label : ''", "format": "d", "title": "Wave Number (cm \u207b\u00b9)"}},
 "y": {"field": "y", "type": "quantitative", "scale": {"domain": [-207, 5000], "nice": false, "zero": false}, "axis": {"labelFont": "Liberation Serif", "labelFontSize": 17, "values": [0,250,500,750,1000,1250,1500,1750,2000,2250,2500,2750,3000,3250,3500,3750,4000,4250,4500,4750,5000], "labelExpr": "datum.value % 500 === 0 ? datum.label : ''", "format": "d", "tickSize": {"condition": {"test": "datum.value % 500 === 0", "value": -7}, "value": -4}, "title": "Intensity\u00a0\u00a0(a.u.)"}}
},
"layer": [
 {"data": {"name": "A"}, "mark": {"type": "line", "color": "#8dc36e", "strokeWidth": 1.6, "clip": true}},
 {"data": {"name": "peaks"}, "transform": [{"filter": "datum.p === 'A' && datum.k === 'n'"}], "mark": {"type": "text", "font": "Liberation Serif", "fontSize": 27, "baseline": "middle", "color": "#111"}, "encoding": {"text": {"field": "t"}}},
 {"data": {"name": "peaks"}, "transform": [{"filter": "datum.p === 'A' && datum.k === 'l'"}], "mark": {"type": "text", "font": "Liberation Serif", "fontSize": 32, "baseline": "middle", "color": "#111"}, "encoding": {"text": {"field": "t"}}}
]
},
{
"width": 542, "height": 430,
"encoding": {
 "x": {"field": "x", "type": "quantitative", "scale": {"domain": [0, 2031], "nice": false, "zero": false}, "axis": {"labelFont": "Liberation Serif", "labelFontSize": 17, "values": [0,100,200,300,400,500,600,700,800,900,1000,1100,1200,1300,1400,1500,1600,1700,1800,1900,2000], "labelExpr": "datum.value % 200 === 0 ? datum.label : ''", "format": "d", "title": "Wave Number (cm \u207b\u00b9)"}},
 "y": {"field": "y", "type": "quantitative", "scale": {"domain": [-250, 5000], "nice": false, "zero": false}, "axis": {"labelFont": "Liberation Serif", "labelFontSize": 17, "values": [0,250,500,750,1000,1250,1500,1750,2000,2250,2500,2750,3000,3250,3500,3750,4000,4250,4500,4750,5000], "labelExpr": "datum.value % 500 === 0 ? datum.label : ''", "format": "d", "tickSize": {"condition": {"test": "datum.value % 500 === 0", "value": -7}, "value": -4}, "title": "Intensity\u00a0\u00a0(a.u.)"}}
},
"layer": [
 {"data": {"name": "E"}, "mark": {"type": "line", "color": "#8dc36e", "strokeWidth": 1.6, "clip": true}},
 {"data": {"name": "peaks"}, "transform": [{"filter": "datum.p === 'E' && datum.k === 'n'"}], "mark": {"type": "text", "font": "Liberation Serif", "fontSize": 27, "baseline": "middle", "color": "#111"}, "encoding": {"text": {"field": "t"}}},
 {"data": {"name": "peaks"}, "transform": [{"filter": "datum.p === 'E' && datum.k === 'l'"}], "mark": {"type": "text", "font": "Liberation Serif", "fontSize": 32, "baseline": "middle", "color": "#111"}, "encoding": {"text": {"field": "t"}}}
]
}
],
"spacing": 166, "bounds": "flush"
},
{
"hconcat": [
{
"width": 545, "height": 442,
"encoding": {
 "x": {"field": "x", "type": "quantitative", "scale": {"domain": [0, 2000], "nice": false, "zero": false}, "axis": {"labelFont": "Liberation Serif", "labelFontSize": 17, "values": [0,100,200,300,400,500,600,700,800,900,1000,1100,1200,1300,1400,1500,1600,1700,1800,1900,2000], "labelExpr": "datum.value % 200 === 0 ? datum.label : ''", "format": "d", "title": "Wave Number (cm\u207b\u00b9)"}},
 "y": {"field": "y", "type": "quantitative", "scale": {"domain": [-190, 5000], "nice": false, "zero": false}, "axis": {"labelFont": "Liberation Serif", "labelFontSize": 17, "values": [0,250,500,750,1000,1250,1500,1750,2000,2250,2500,2750,3000,3250,3500,3750,4000,4250,4500,4750,5000], "labelExpr": "datum.value % 500 === 0 ? datum.label : ''", "format": "d", "tickSize": {"condition": {"test": "datum.value % 500 === 0", "value": -7}, "value": -4}, "title": "Intensity\u00a0\u00a0(a.u.)"}}
},
"layer": [
 {"data": {"name": "B"}, "mark": {"type": "line", "color": "#bf8f60", "strokeWidth": 1.6, "clip": true}},
 {"data": {"name": "peaks"}, "transform": [{"filter": "datum.p === 'B' && datum.k === 'n'"}], "mark": {"type": "text", "font": "Liberation Serif", "fontSize": 27, "baseline": "middle", "color": "#111"}, "encoding": {"text": {"field": "t"}}},
 {"data": {"name": "peaks"}, "transform": [{"filter": "datum.p === 'B' && datum.k === 'l'"}], "mark": {"type": "text", "font": "Liberation Serif", "fontSize": 32, "baseline": "middle", "color": "#111"}, "encoding": {"text": {"field": "t"}}}
]
},
{
"width": 538, "height": 434,
"encoding": {
 "x": {"field": "x", "type": "quantitative", "scale": {"domain": [0, 2033], "nice": false, "zero": false}, "axis": {"labelFont": "Liberation Serif", "labelFontSize": 17, "values": [0,100,200,300,400,500,600,700,800,900,1000,1100,1200,1300,1400,1500,1600,1700,1800,1900,2000], "labelExpr": "datum.value % 200 === 0 ? datum.label : ''", "format": "d", "title": "Wave Number (cm \u207b\u00b9)"}},
 "y": {"field": "y", "type": "quantitative", "scale": {"domain": [-242, 5000], "nice": false, "zero": false}, "axis": {"labelFont": "Liberation Serif", "labelFontSize": 17, "values": [0,250,500,750,1000,1250,1500,1750,2000,2250,2500,2750,3000,3250,3500,3750,4000,4250,4500,4750,5000], "labelExpr": "datum.value % 500 === 0 ? datum.label : ''", "format": "d", "tickSize": {"condition": {"test": "datum.value % 500 === 0", "value": -7}, "value": -4}, "title": "Intensity\u00a0\u00a0(a.u.)"}}
},
"layer": [
 {"data": {"name": "H"}, "mark": {"type": "line", "color": "#bf8f60", "strokeWidth": 1.6, "clip": true}},
 {"data": {"name": "peaks"}, "transform": [{"filter": "datum.p === 'H' && datum.k === 'n'"}], "mark": {"type": "text", "font": "Liberation Serif", "fontSize": 27, "baseline": "middle", "color": "#111"}, "encoding": {"text": {"field": "t"}}},
 {"data": {"name": "peaks"}, "transform": [{"filter": "datum.p === 'H' && datum.k === 'l'"}], "mark": {"type": "text", "font": "Liberation Serif", "fontSize": 32, "baseline": "middle", "color": "#111"}, "encoding": {"text": {"field": "t"}}}
]
}
],
"spacing": 167, "bounds": "flush"
}
]
},
{
"hconcat": [
{
"width": 550, "height": 431,
"encoding": {
 "x": {"field": "x", "type": "quantitative", "scale": {"domain": [0, 2067], "nice": false, "zero": false}, "axis": {"labelFont": "Liberation Serif", "labelFontSize": 17, "values": [0,100,200,300,400,500,600,700,800,900,1000,1100,1200,1300,1400,1500,1600,1700,1800,1900,2000], "labelExpr": "datum.value % 200 === 0 ? datum.label : ''", "format": "d", "title": "Wave Number (cm\u207b\u00b9)"}},
 "y": {"field": "y", "type": "quantitative", "scale": {"domain": [-245, 5000], "nice": false, "zero": false}, "axis": {"labelFont": "Liberation Serif", "labelFontSize": 17, "values": [0,250,500,750,1000,1250,1500,1750,2000,2250,2500,2750,3000,3250,3500,3750,4000,4250,4500,4750,5000], "labelExpr": "datum.value % 500 === 0 ? datum.label : ''", "format": "d", "tickSize": {"condition": {"test": "datum.value % 500 === 0", "value": -7}, "value": -4}, "title": "Intensity\u00a0\u00a0(a.u.)"}}
},
"layer": [
 {"data": {"name": "C"}, "mark": {"type": "line", "color": "#3b9fb7", "strokeWidth": 1.6, "clip": true}},
 {"data": {"name": "peaks"}, "transform": [{"filter": "datum.p === 'C' && datum.k === 'n'"}], "mark": {"type": "text", "font": "Liberation Serif", "fontSize": 27, "baseline": "middle", "color": "#111"}, "encoding": {"text": {"field": "t"}}},
 {"data": {"name": "peaks"}, "transform": [{"filter": "datum.p === 'C' && datum.k === 'l'"}], "mark": {"type": "text", "font": "Liberation Serif", "fontSize": 32, "baseline": "middle", "color": "#111"}, "encoding": {"text": {"field": "t"}}}
]
},
{
"width": 544, "height": 431,
"encoding": {
 "x": {"field": "x", "type": "quantitative", "scale": {"domain": [0, 2059], "nice": false, "zero": false}, "axis": {"labelFont": "Liberation Serif", "labelFontSize": 17, "values": [0,100,200,300,400,500,600,700,800,900,1000,1100,1200,1300,1400,1500,1600,1700,1800,1900,2000], "labelExpr": "datum.value % 200 === 0 ? datum.label : ''", "format": "d", "title": "Wave Number (cm \u207b\u00b9)"}},
 "y": {"field": "y", "type": "quantitative", "scale": {"domain": [-255, 5000], "nice": false, "zero": false}, "axis": {"labelFont": "Liberation Serif", "labelFontSize": 17, "values": [0,250,500,750,1000,1250,1500,1750,2000,2250,2500,2750,3000,3250,3500,3750,4000,4250,4500,4750,5000], "labelExpr": "datum.value % 500 === 0 ? datum.label : ''", "format": "d", "tickSize": {"condition": {"test": "datum.value % 500 === 0", "value": -7}, "value": -4}, "title": "Intensity\u00a0\u00a0(a.u.)"}}
},
"layer": [
 {"data": {"name": "G"}, "mark": {"type": "line", "color": "#3b9fb7", "strokeWidth": 1.6, "clip": true}},
 {"data": {"name": "peaks"}, "transform": [{"filter": "datum.p === 'G' && datum.k === 'n'"}], "mark": {"type": "text", "font": "Liberation Serif", "fontSize": 27, "baseline": "middle", "color": "#111"}, "encoding": {"text": {"field": "t"}}},
 {"data": {"name": "peaks"}, "transform": [{"filter": "datum.p === 'G' && datum.k === 'l'"}], "mark": {"type": "text", "font": "Liberation Serif", "fontSize": 32, "baseline": "middle", "color": "#111"}, "encoding": {"text": {"field": "t"}}}
]
}
],
"spacing": 159, "bounds": "flush"
}
]
}
]
},
{"width": 2, "height": 1762, "view": {"stroke": null}, "data": {"values": [{}]}, "mark": {"type": "rect", "color": "#222"}, "encoding": {}}
]
}
]
},
{"width": 1487, "height": 2, "view": {"stroke": null}, "data": {"values": [{}]}, "mark": {"type": "rect", "color": "#222"}, "encoding": {}}
]
}
]
}
